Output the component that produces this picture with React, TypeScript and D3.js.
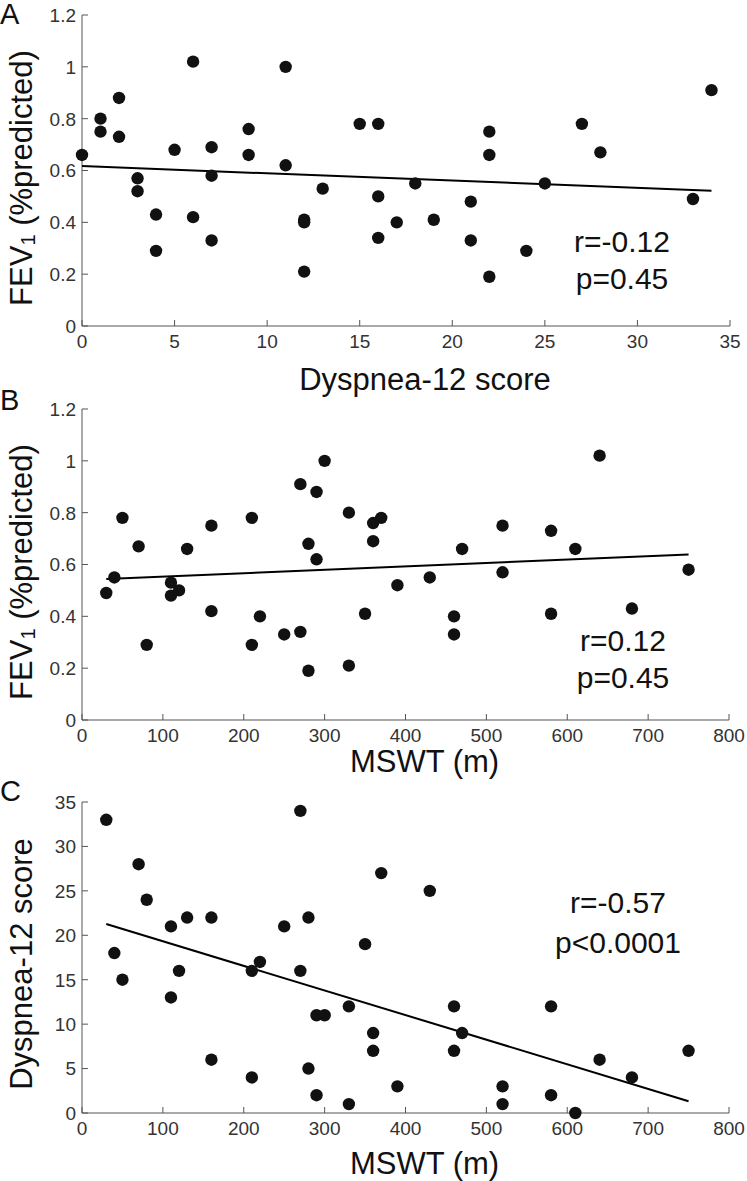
import React from "react";
import * as d3 from "d3";

// Panel A: Dyspnea-12 score vs FEV1
const aDyspnea = [0, 1, 1, 2, 2, 3, 3, 4, 4, 5, 6, 6, 7, 7, 7, 9, 9, 11, 11, 12, 12, 12, 13, 15, 16, 16, 16, 17, 18, 19, 21, 21, 22, 22, 22, 24, 25, 27, 28, 33, 34];
const aFev = [0.66, 0.80, 0.75, 0.88, 0.73, 0.57, 0.52, 0.43, 0.29, 0.68, 1.02, 0.42, 0.69, 0.58, 0.33, 0.76, 0.66, 1.00, 0.62, 0.41, 0.40, 0.21, 0.53, 0.78, 0.78, 0.50, 0.34, 0.40, 0.55, 0.41, 0.48, 0.33, 0.75, 0.66, 0.19, 0.29, 0.55, 0.78, 0.67, 0.49, 0.91];

// Panel B: MSWT vs FEV1
const bMswt = [30, 40, 50, 70, 80, 110, 110, 120, 130, 160, 160, 210, 210, 220, 250, 270, 270, 280, 280, 290, 290, 300, 330, 330, 350, 360, 360, 370, 390, 430, 460, 460, 470, 520, 520, 580, 580, 610, 640, 680, 750];
const bFev = [0.49, 0.55, 0.78, 0.67, 0.29, 0.53, 0.48, 0.50, 0.66, 0.75, 0.42, 0.78, 0.29, 0.40, 0.33, 0.91, 0.34, 0.68, 0.19, 0.88, 0.62, 1.00, 0.80, 0.21, 0.41, 0.76, 0.69, 0.78, 0.52, 0.55, 0.40, 0.33, 0.66, 0.75, 0.57, 0.73, 0.41, 0.66, 1.02, 0.43, 0.58];

// Panel C: MSWT vs Dyspnea-12 score
const cMswt = [30, 40, 50, 70, 80, 110, 110, 120, 130, 160, 160, 210, 210, 220, 250, 270, 270, 280, 280, 290, 290, 300, 330, 330, 350, 360, 360, 370, 390, 430, 460, 460, 470, 520, 520, 580, 580, 610, 640, 680, 750];
const cDyspnea = [33, 18, 15, 28, 24, 21, 13, 16, 22, 22, 6, 16, 4, 17, 21, 34, 16, 22, 5, 11, 2, 11, 12, 1, 19, 9, 7, 27, 3, 25, 12, 7, 9, 3, 1, 12, 2, 0, 6, 4, 7];

// Regression fits (intercept, slope)
const fitA = [0.617, -0.0028];
const fitB = [0.540, 0.000132];
const fitC = [22.1, -0.0277];

// Tick values
const ticksDyspnea = [0, 5, 10, 15, 20, 25, 30, 35];
const ticksFev = [0, 0.2, 0.4, 0.6, 0.8, 1.0, 1.2];
const ticksMswt = [0, 100, 200, 300, 400, 500, 600, 700, 800];

const statsA = ["r=-0.12", "p=0.45"];
const statsB = ["r=0.12", "p=0.45"];
const statsC = ["r=-0.57", "p<0.0001"];

const FONT = "'Liberation Sans', Arial, Helvetica, sans-serif";

type PanelProps = {
  letter: string;
  xs: number[];
  ys: number[];
  fit: number[];
  xDomain: [number, number];
  yDomain: [number, number];
  xTicks: number[];
  yTicks: number[];
  left: number;
  right: number;
  top: number;
  bottom: number;
  xLabel: string;
  yLabel: React.ReactNode;
  yLabelCenter: number;
  xLabelBaseline: number;
  letterBaseline: number;
  stats: string[];
  statsX: number;
  statsBaselines: number[];
};

function Panel(p: PanelProps) {
  const x = d3.scaleLinear().domain(p.xDomain).range([p.left, p.right]);
  const y = d3.scaleLinear().domain(p.yDomain).range([p.bottom, p.top]);
  const x0 = d3.min(p.xs) as number;
  const x1 = d3.max(p.xs) as number;
  const line = d3.line<number>().x((v) => x(v)).y((v) => y(p.fit[0] + p.fit[1] * v));
  const fmt = (v: number) => String(+v.toFixed(2));
  const tickLen = 6;
  const axisColor = "#555";
  return (
    <g>
      <text x={0} y={p.letterBaseline} fontSize={29} fontFamily={FONT} fill="#111">{p.letter}</text>
      {/* axes */}
      <line x1={p.left} x2={p.left} y1={p.top} y2={p.bottom} stroke={axisColor} strokeWidth={1} />
      <line x1={p.left} x2={p.right} y1={p.bottom} y2={p.bottom} stroke={axisColor} strokeWidth={1} />
      {p.xTicks.map((t) => (
        <g key={"xt" + t}>
          <line x1={x(t)} x2={x(t)} y1={p.bottom} y2={p.bottom - tickLen} stroke={axisColor} />
          <text x={x(t)} y={p.bottom + 22} textAnchor="middle" fontSize={19} fontFamily={FONT} fill="#333">{fmt(t)}</text>
        </g>
      ))}
      {p.yTicks.map((t) => (
        <g key={"yt" + t}>
          <line x1={p.left} x2={p.left + tickLen} y1={y(t)} y2={y(t)} stroke={axisColor} />
          <text x={p.left - 6} y={y(t)} dy="0.36em" textAnchor="end" fontSize={19} fontFamily={FONT} fill="#333">{fmt(t)}</text>
        </g>
      ))}
      {/* regression line */}
      <path d={line([x0, x1]) || ""} stroke="#000" strokeWidth={2} fill="none" />
      {/* points */}
      {p.xs.map((v, i) => (
        <circle key={"pt" + i} cx={x(v)} cy={y(p.ys[i])} r={6.2} fill="#111" />
      ))}
      {/* labels */}
      <text x={(p.left + p.right) / 2 + 19} y={p.xLabelBaseline} textAnchor="middle" fontSize={31} fontFamily={FONT} fill="#111">{p.xLabel}</text>
      <text transform={`translate(32,${p.yLabelCenter}) rotate(-90)`} textAnchor="middle" fontSize={31} fontFamily={FONT} fill="#111">{p.yLabel}</text>
      {p.stats.map((s, i) => (
        <text key={"st" + i} x={p.statsX} y={p.statsBaselines[i]} textAnchor="middle" fontSize={30} fontFamily={FONT} fill="#111">{s}</text>
      ))}
    </g>
  );
}

const fevLabel = (
  <>
    <tspan>FEV</tspan>
    <tspan fontSize={20} dy={3}>1</tspan>
    <tspan dy={-3}> (%predicted)</tspan>
  </>
);

export default function App() {
  return (
    <svg width={747} height={1181} style={{ position: "absolute", left: 0, top: 0, background: "#fff" }}>
      <Panel
        letter="A"
        xs={aDyspnea}
        ys={aFev}
        fit={fitA}
        xDomain={[0, 35]}
        yDomain={[0, 1.2]}
        xTicks={ticksDyspnea}
        yTicks={ticksFev}
        left={82}
        right={730}
        top={15}
        bottom={326}
        xLabel="Dyspnea-12 score"
        yLabel={fevLabel}
        yLabelCenter={178}
        xLabelBaseline={390}
        letterBaseline={24}
        stats={statsA}
        statsX={622}
        statsBaselines={[252, 289]}
      />
      <Panel
        letter="B"
        xs={bMswt}
        ys={bFev}
        fit={fitB}
        xDomain={[0, 800]}
        yDomain={[0, 1.2]}
        xTicks={ticksMswt}
        yTicks={ticksFev}
        left={82}
        right={729}
        top={409}
        bottom={720}
        xLabel="MSWT (m)"
        yLabel={fevLabel}
        yLabelCenter={572}
        xLabelBaseline={772}
        letterBaseline={410}
        stats={statsB}
        statsX={623}
        statsBaselines={[651, 688]}
      />
      <Panel
        letter="C"
        xs={cMswt}
        ys={cDyspnea}
        fit={fitC}
        xDomain={[0, 800]}
        yDomain={[0, 35]}
        xTicks={ticksMswt}
        yTicks={ticksDyspnea}
        left={82}
        right={729}
        top={802}
        bottom={1113}
        xLabel="MSWT (m)"
        yLabel={"Dyspnea-12 score"}
        yLabelCenter={964}
        xLabelBaseline={1174}
        letterBaseline={801}
        stats={statsC}
        statsX={618}
        statsBaselines={[913, 953]}
      />
    </svg>
  );
}
